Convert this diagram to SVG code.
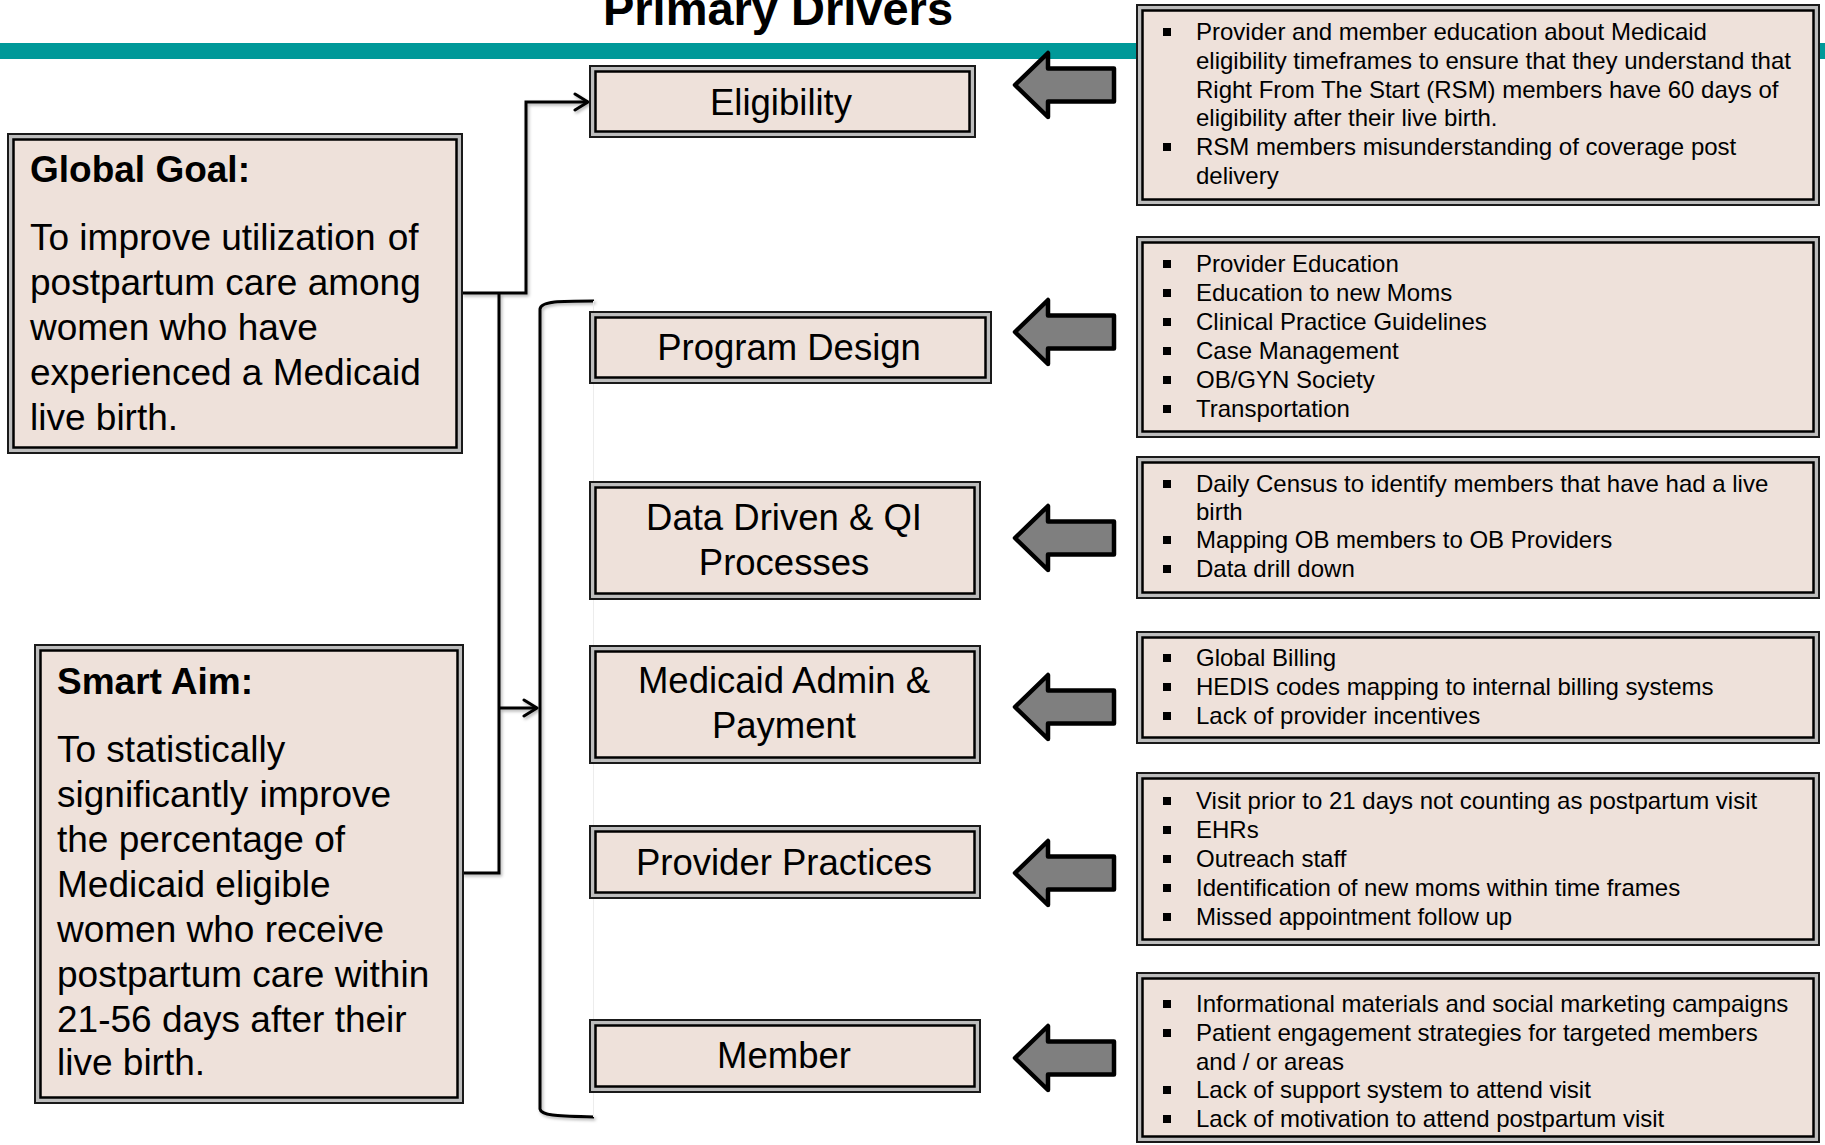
<svg xmlns="http://www.w3.org/2000/svg" width="1825" height="1145" viewBox="0 0 1825 1145">
  <style>
    text { font-family: "Liberation Sans", Arial, sans-serif; fill: #000; }
    .title { font-size: 47px; font-weight: bold; text-anchor: middle; }
    .head { font-size: 37px; font-weight: bold; }
    .body { font-size: 37px; }
    .drv { font-size: 36.5px; text-anchor: middle; }
    .li { font-size: 24px; }
    .frame { fill: #bdbdbd; stroke: #1a1a1a; stroke-width: 2; }
    .panel { fill: #EEE1DA; stroke: #000; stroke-width: 2.5; }
    .blk { fill: #7f7f7f; stroke: #000; stroke-width: 4.5; stroke-linejoin: round; }
    .wire { fill: none; stroke: #000; stroke-width: 3; }
  </style>
  <defs>
    <marker id="chev" markerUnits="userSpaceOnUse" markerWidth="20" markerHeight="20" viewBox="-16 -10 18 20" refX="0" refY="0" orient="auto">
      <path d="M -13 -8 L 0 0 L -13 8" fill="none" stroke="#000" stroke-width="3" stroke-linejoin="round" stroke-linecap="round"/>
    </marker>
    <filter id="soft" x="-10%" y="-10%" width="120%" height="120%">
      <feDropShadow dx="1.5" dy="2" stdDeviation="1.5" flood-color="#000" flood-opacity="0.3"/>
    </filter>
    <!-- left-pointing block arrow, centred on y = 0 -->
    <path id="blockArrow" d="M 1015 0 L 1048 -32 L 1048 -16.5 L 1114 -16.5 L 1114 16.5 L 1048 16.5 L 1048 32 Z"/>
  </defs>

  <rect x="0" y="0" width="1825" height="1145" fill="#fff"/>

  <!-- heading and rule -->
  <text class="title" x="778" y="25">Primary Drivers</text>
  <rect x="0" y="43" width="1825" height="16" fill="#009999"/>

  <!-- connectors -->
  <g id="connectors" filter="url(#soft)">
    <path class="wire" d="M 462 293 H 526 V 102 H 588" marker-end="url(#chev)"/>
    <path class="wire" d="M 499 293 V 873 H 462"/>
    <path class="wire" d="M 499 708 H 537" marker-end="url(#chev)"/>
    <path class="wire" d="M 594 301 C 560 301 541 301 540 309 V 1109 C 541 1116 560 1116 594 1117"/>
  </g>
  <line x1="593.5" y1="301" x2="593.5" y2="1117" stroke="#ececec" stroke-width="1"/>

  <!-- goal -->
  <g id="global-goal">
    <rect class="frame" x="8" y="134" width="454" height="319"/>
    <rect class="panel" x="13.5" y="139.5" width="443" height="308"/>
    <text class="head" x="30" y="182">Global Goal:</text>
    <text class="body" x="30" y="250">To improve utilization <tspan dx="2">of</tspan></text>
    <text class="body" x="30" y="295">postpartum care among</text>
    <text class="body" x="30" y="340">women who have</text>
    <text class="body" x="30" y="385">experienced a Medicaid</text>
    <text class="body" x="30" y="430">live birth.</text>
  </g>

  <!-- aim -->
  <g id="smart-aim">
    <rect class="frame" x="35" y="645" width="428" height="458"/>
    <rect class="panel" x="40.5" y="650.5" width="417" height="447"/>
    <text class="head" x="57" y="694">Smart Aim:</text>
    <text class="body" x="57" y="762">To statistically</text>
    <text class="body" x="57" y="807">significantly <tspan dx="1">improve</tspan></text>
    <text class="body" x="57" y="852">the percentage of</text>
    <text class="body" x="57" y="897">Medicaid eligible</text>
    <text class="body" x="57" y="942">women who receive</text>
    <text class="body" x="57" y="987">postpartum care within</text>
    <text class="body" x="57" y="1032">21-56 days after their</text>
    <text class="body" x="57" y="1075">live birth.</text>
  </g>

  <!-- primary drivers -->
  <g id="eligibility">
    <rect class="frame" x="590" y="66" width="385" height="71"/>
    <rect class="panel" x="595.5" y="71.5" width="374" height="60"/>
    <text class="drv" x="781" y="115">Eligibility</text>
  </g>
  <g id="program-design">
    <rect class="frame" x="590" y="312" width="401" height="71"/>
    <rect class="panel" x="595.5" y="317.5" width="390" height="60"/>
    <text class="drv" x="789" y="360">Program Design</text>
  </g>
  <g id="data-driven">
    <rect class="frame" x="590" y="482" width="390" height="117"/>
    <rect class="panel" x="595.5" y="487.5" width="379" height="106"/>
    <text class="drv" x="784" y="530">Data Driven &amp; QI</text>
    <text class="drv" x="784" y="575">Processes</text>
  </g>
  <g id="medicaid-admin">
    <rect class="frame" x="590" y="646" width="390" height="117"/>
    <rect class="panel" x="595.5" y="651.5" width="379" height="106"/>
    <text class="drv" x="784" y="693">Medicaid Admin &amp;</text>
    <text class="drv" x="784" y="738">Payment</text>
  </g>
  <g id="provider-practices">
    <rect class="frame" x="590" y="826" width="390" height="72"/>
    <rect class="panel" x="595.5" y="831.5" width="379" height="61"/>
    <text class="drv" x="784" y="875">Provider Practices</text>
  </g>
  <g id="member">
    <rect class="frame" x="590" y="1020" width="390" height="72"/>
    <rect class="panel" x="595.5" y="1025.5" width="379" height="61"/>
    <text class="drv" x="784" y="1068">Member</text>
  </g>

  <!-- block arrows -->
  <g id="block-arrows">
    <use href="#blockArrow" class="blk" transform="translate(0,85)"/>
    <use href="#blockArrow" class="blk" transform="translate(0,332)"/>
    <use href="#blockArrow" class="blk" transform="translate(0,538)"/>
    <use href="#blockArrow" class="blk" transform="translate(0,707)"/>
    <use href="#blockArrow" class="blk" transform="translate(0,873)"/>
    <use href="#blockArrow" class="blk" transform="translate(0,1058)"/>
  </g>

  <!-- secondary driver lists -->
  <g id="list-eligibility">
    <rect class="frame" x="1137" y="5" width="682" height="200"/>
    <rect class="panel" x="1142.5" y="10.5" width="671" height="189"/>
    <rect x="1163" y="28" width="8" height="8"/>
    <rect x="1163" y="143" width="8" height="8"/>
    <text class="li" x="1196" y="40">Provider and member education about Medicaid</text>
    <text class="li" x="1196" y="69">eligibility timeframes to ensure that they understand that</text>
    <text class="li" x="1196" y="98">Right From The Start (RSM) members have 60 days of</text>
    <text class="li" x="1196" y="126">eligibility after their live birth.</text>
    <text class="li" x="1196" y="155">RSM members misunderstanding of coverage post</text>
    <text class="li" x="1196" y="184">delivery</text>
  </g>
  <g id="list-program-design">
    <rect class="frame" x="1137" y="237" width="682" height="200"/>
    <rect class="panel" x="1142.5" y="242.5" width="671" height="189"/>
    <rect x="1163" y="260" width="8" height="8"/>
    <rect x="1163" y="289" width="8" height="8"/>
    <rect x="1163" y="318" width="8" height="8"/>
    <rect x="1163" y="347" width="8" height="8"/>
    <rect x="1163" y="376" width="8" height="8"/>
    <rect x="1163" y="405" width="8" height="8"/>
    <text class="li" x="1196" y="272">Provider Education</text>
    <text class="li" x="1196" y="301">Education to new Moms</text>
    <text class="li" x="1196" y="330">Clinical Practice Guidelines</text>
    <text class="li" x="1196" y="359">Case Management</text>
    <text class="li" x="1196" y="388">OB/GYN Society</text>
    <text class="li" x="1196" y="417">Transportation</text>
  </g>
  <g id="list-data-driven">
    <rect class="frame" x="1137" y="457" width="682" height="141"/>
    <rect class="panel" x="1142.5" y="462.5" width="671" height="130"/>
    <rect x="1163" y="480" width="8" height="8"/>
    <rect x="1163" y="536" width="8" height="8"/>
    <rect x="1163" y="565" width="8" height="8"/>
    <text class="li" x="1196" y="492">Daily Census to identify members that have had a live</text>
    <text class="li" x="1196" y="520">birth</text>
    <text class="li" x="1196" y="548">Mapping OB members to OB Providers</text>
    <text class="li" x="1196" y="577">Data drill down</text>
  </g>
  <g id="list-medicaid-admin">
    <rect class="frame" x="1137" y="632" width="682" height="111"/>
    <rect class="panel" x="1142.5" y="637.5" width="671" height="100"/>
    <rect x="1163" y="654" width="8" height="8"/>
    <rect x="1163" y="683" width="8" height="8"/>
    <rect x="1163" y="712" width="8" height="8"/>
    <text class="li" x="1196" y="666">Global Billing</text>
    <text class="li" x="1196" y="695">HEDIS codes mapping to internal billing systems</text>
    <text class="li" x="1196" y="724">Lack of provider incentives</text>
  </g>
  <g id="list-provider-practices">
    <rect class="frame" x="1137" y="773" width="682" height="172"/>
    <rect class="panel" x="1142.5" y="778.5" width="671" height="161"/>
    <rect x="1163" y="797" width="8" height="8"/>
    <rect x="1163" y="826" width="8" height="8"/>
    <rect x="1163" y="855" width="8" height="8"/>
    <rect x="1163" y="884" width="8" height="8"/>
    <rect x="1163" y="913" width="8" height="8"/>
    <text class="li" x="1196" y="809">Visit prior to 21 days not counting as postpartum visit</text>
    <text class="li" x="1196" y="838">EHRs</text>
    <text class="li" x="1196" y="867">Outreach staff</text>
    <text class="li" x="1196" y="896">Identification of new moms within time frames</text>
    <text class="li" x="1196" y="925">Missed appointment follow up</text>
  </g>
  <g id="list-member">
    <rect class="frame" x="1137" y="973" width="682" height="169"/>
    <rect class="panel" x="1142.5" y="978.5" width="671" height="158"/>
    <rect x="1163" y="1000" width="8" height="8"/>
    <rect x="1163" y="1029" width="8" height="8"/>
    <rect x="1163" y="1086" width="8" height="8"/>
    <rect x="1163" y="1115" width="8" height="8"/>
    <text class="li" x="1196" y="1012">Informational materials and social marketing campaigns</text>
    <text class="li" x="1196" y="1041">Patient engagement strategies for targeted members</text>
    <text class="li" x="1196" y="1070">and / or areas</text>
    <text class="li" x="1196" y="1098">Lack of support system to attend visit</text>
    <text class="li" x="1196" y="1127">Lack of motivation to attend postpartum visit</text>
  </g>
</svg>
